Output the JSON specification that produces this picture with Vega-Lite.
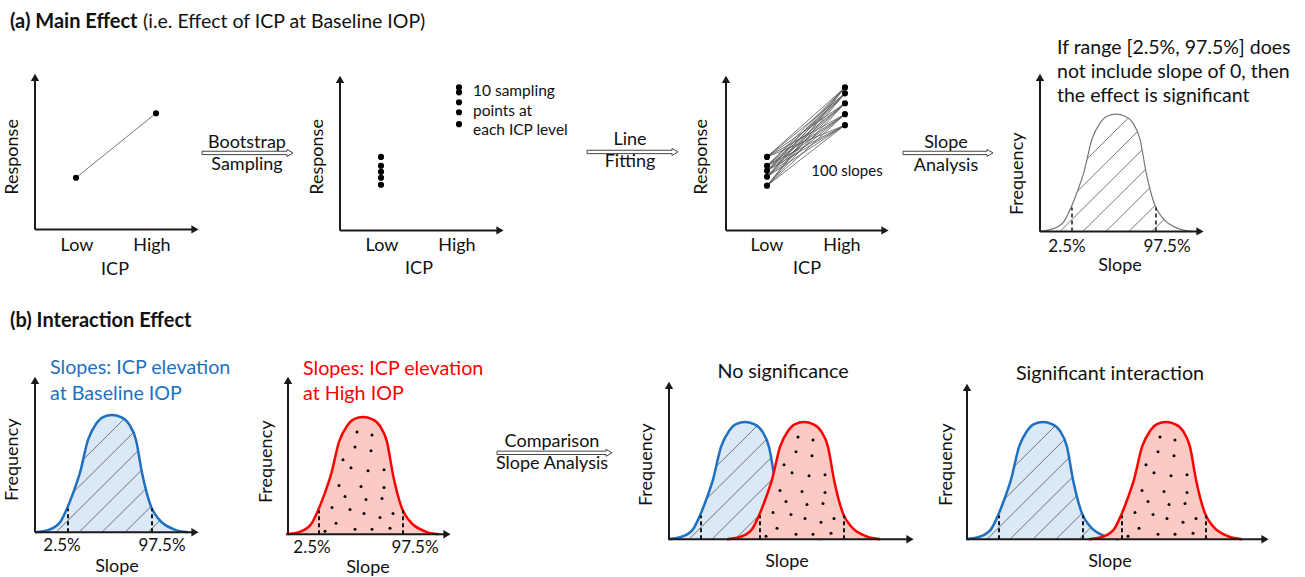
{
"$schema": "https://vega.github.io/schema/vega-lite/v6.json",
"width": 1305, "height": 577, "padding": 0,
"autosize": {"type": "fit", "contains": "padding"},
"background": "white",
"config": {"view": {"stroke": null}, "font": "Lato"},
"datasets": {
"axes": [
{"x":35,"y":231,"x2":35,"y2":78},{"x":35,"y":231,"x2":195,"y2":231},
{"x":340,"y":232,"x2":340,"y2":80},{"x":340,"y":232,"x2":500,"y2":232},
{"x":726,"y":232,"x2":726,"y2":80},{"x":726,"y":232,"x2":885,"y2":232},
{"x":1040,"y":233,"x2":1040,"y2":78},{"x":1040,"y":233,"x2":1200,"y2":233},
{"x":35,"y":536,"x2":35,"y2":383},{"x":35,"y":536,"x2":195,"y2":536},
{"x":288,"y":538,"x2":288,"y2":383},{"x":288,"y":538,"x2":447,"y2":538},
{"x":669,"y":543,"x2":669,"y2":388},{"x":669,"y":543,"x2":910,"y2":543},
{"x":967,"y":543,"x2":967,"y2":390},{"x":967,"y":543,"x2":1265,"y2":543}
],
"heads": [
{"x":35,"y":78,"d":"up"},{"x":195,"y":231,"d":"right"},
{"x":340,"y":80,"d":"up"},{"x":500,"y":232,"d":"right"},
{"x":726,"y":80,"d":"up"},{"x":885,"y":232,"d":"right"},
{"x":1040,"y":78,"d":"up"},{"x":1200,"y":233,"d":"right"},
{"x":35,"y":383,"d":"up"},{"x":195,"y":536,"d":"right"},
{"x":288,"y":383,"d":"up"},{"x":447,"y":538,"d":"right"},
{"x":669,"y":388,"d":"up"},{"x":910,"y":543,"d":"right"},
{"x":967,"y":390,"d":"up"},{"x":1265,"y":543,"d":"right"}
],
"arrows": [
{"id":1,"o":1,"x":202,"y":152.3},{"id":1,"o":2,"x":287,"y":152.3},{"id":1,"o":3,"x":287,"y":150.5},{"id":1,"o":4,"x":293,"y":154},{"id":1,"o":5,"x":287,"y":157.5},{"id":1,"o":6,"x":287,"y":155.7},{"id":1,"o":7,"x":202,"y":155.7},{"id":1,"o":8,"x":202,"y":152.3},
{"id":2,"o":1,"x":587,"y":151.3},{"id":2,"o":2,"x":672,"y":151.3},{"id":2,"o":3,"x":672,"y":149.5},{"id":2,"o":4,"x":678,"y":153},{"id":2,"o":5,"x":672,"y":156.5},{"id":2,"o":6,"x":672,"y":154.7},{"id":2,"o":7,"x":587,"y":154.7},{"id":2,"o":8,"x":587,"y":151.3},
{"id":3,"o":1,"x":903,"y":152.3},{"id":3,"o":2,"x":987,"y":152.3},{"id":3,"o":3,"x":987,"y":150.5},{"id":3,"o":4,"x":993,"y":154},{"id":3,"o":5,"x":987,"y":157.5},{"id":3,"o":6,"x":987,"y":155.7},{"id":3,"o":7,"x":903,"y":155.7},{"id":3,"o":8,"x":903,"y":152.3},
{"id":4,"o":1,"x":497,"y":454.3},{"id":4,"o":2,"x":606,"y":454.3},{"id":4,"o":3,"x":606,"y":452.5},{"id":4,"o":4,"x":612,"y":456},{"id":4,"o":5,"x":606,"y":459.5},{"id":4,"o":6,"x":606,"y":457.7},{"id":4,"o":7,"x":497,"y":457.7},{"id":4,"o":8,"x":497,"y":454.3}
],
"mainLine": [{"x":76,"y":179,"x2":156,"y2":114}],
"fits": [
{"x":767,"y":158,"x2":845,"y2":88},{"x":767,"y":158,"x2":845,"y2":94},{"x":767,"y":158,"x2":845,"y2":104},{"x":767,"y":158,"x2":845,"y2":115},{"x":767,"y":158,"x2":845,"y2":126},
{"x":767,"y":167,"x2":845,"y2":88},{"x":767,"y":167,"x2":845,"y2":94},{"x":767,"y":167,"x2":845,"y2":104},{"x":767,"y":167,"x2":845,"y2":115},{"x":767,"y":167,"x2":845,"y2":126},
{"x":767,"y":172,"x2":845,"y2":88},{"x":767,"y":172,"x2":845,"y2":94},{"x":767,"y":172,"x2":845,"y2":104},{"x":767,"y":172,"x2":845,"y2":115},{"x":767,"y":172,"x2":845,"y2":126},
{"x":767,"y":178,"x2":845,"y2":88},{"x":767,"y":178,"x2":845,"y2":94},{"x":767,"y":178,"x2":845,"y2":104},{"x":767,"y":178,"x2":845,"y2":115},{"x":767,"y":178,"x2":845,"y2":126},
{"x":767,"y":187,"x2":845,"y2":88},{"x":767,"y":187,"x2":845,"y2":94},{"x":767,"y":187,"x2":845,"y2":104},{"x":767,"y":187,"x2":845,"y2":115},{"x":767,"y":187,"x2":845,"y2":126}
],
"pts": [
{"x":76,"y":179},{"x":156,"y":114},
{"x":381,"y":158},{"x":381,"y":167},{"x":381,"y":173},{"x":381,"y":179},{"x":381,"y":186},
{"x":459,"y":88},{"x":459,"y":93},{"x":459,"y":103},{"x":459,"y":113},{"x":459,"y":125},
{"x":767,"y":158},{"x":767,"y":167},{"x":767,"y":172},{"x":767,"y":178},{"x":767,"y":187},
{"x":845,"y":88},{"x":845,"y":94},{"x":845,"y":104},{"x":845,"y":115},{"x":845,"y":126}
],
"grayCurve": [
{"c":"T","x":1039,"y":233,"b":233},{"c":"T","x":1054,"y":230,"b":233},{"c":"T","x":1064,"y":223,"b":233},{"c":"T","x":1071,"y":209,"b":233},{"c":"T","x":1078,"y":191,"b":233},{"c":"T","x":1084,"y":173,"b":233},{"c":"T","x":1092,"y":140,"b":233},{"c":"T","x":1100,"y":124,"b":233},{"c":"T","x":1107,"y":117,"b":233},{"c":"T","x":1116,"y":115,"b":233},{"c":"T","x":1125,"y":117,"b":233},{"c":"T","x":1133,"y":124,"b":233},{"c":"T","x":1140,"y":140,"b":233},{"c":"T","x":1146,"y":173,"b":233},{"c":"T","x":1155,"y":207,"b":233},{"c":"T","x":1163,"y":220,"b":233},{"c":"T","x":1178,"y":230,"b":233},{"c":"T","x":1192,"y":233,"b":233}
],
"blueCurves": [
{"c":"B1","x":35,"y":536,"b":536},{"c":"B1","x":50,"y":533,"b":536},{"c":"B1","x":60,"y":526,"b":536},{"c":"B1","x":67,"y":512,"b":536},{"c":"B1","x":74,"y":494,"b":536},{"c":"B1","x":80,"y":476,"b":536},{"c":"B1","x":88,"y":443,"b":536},{"c":"B1","x":96,"y":427,"b":536},{"c":"B1","x":103,"y":420,"b":536},{"c":"B1","x":112,"y":418,"b":536},{"c":"B1","x":121,"y":420,"b":536},{"c":"B1","x":129,"y":427,"b":536},{"c":"B1","x":136,"y":443,"b":536},{"c":"B1","x":142,"y":476,"b":536},{"c":"B1","x":151,"y":510,"b":536},{"c":"B1","x":159,"y":523,"b":536},{"c":"B1","x":174,"y":533,"b":536},{"c":"B1","x":188,"y":536,"b":536},
{"c":"B3","x":668,"y":543,"b":543},{"c":"B3","x":683,"y":540,"b":543},{"c":"B3","x":693,"y":533,"b":543},{"c":"B3","x":700,"y":519,"b":543},{"c":"B3","x":707,"y":501,"b":543},{"c":"B3","x":713,"y":483,"b":543},{"c":"B3","x":721,"y":450,"b":543},{"c":"B3","x":729,"y":434,"b":543},{"c":"B3","x":736,"y":427,"b":543},{"c":"B3","x":745,"y":425,"b":543},{"c":"B3","x":754,"y":427,"b":543},{"c":"B3","x":762,"y":434,"b":543},{"c":"B3","x":769,"y":450,"b":543},{"c":"B3","x":775,"y":483,"b":543},{"c":"B3","x":784,"y":517,"b":543},{"c":"B3","x":792,"y":530,"b":543},{"c":"B3","x":807,"y":540,"b":543},{"c":"B3","x":821,"y":543,"b":543},
{"c":"B4","x":966,"y":543,"b":543},{"c":"B4","x":981,"y":540,"b":543},{"c":"B4","x":991,"y":533,"b":543},{"c":"B4","x":998,"y":519,"b":543},{"c":"B4","x":1005,"y":501,"b":543},{"c":"B4","x":1011,"y":483,"b":543},{"c":"B4","x":1019,"y":450,"b":543},{"c":"B4","x":1027,"y":434,"b":543},{"c":"B4","x":1034,"y":427,"b":543},{"c":"B4","x":1043,"y":425,"b":543},{"c":"B4","x":1052,"y":427,"b":543},{"c":"B4","x":1060,"y":434,"b":543},{"c":"B4","x":1067,"y":450,"b":543},{"c":"B4","x":1073,"y":483,"b":543},{"c":"B4","x":1082,"y":517,"b":543},{"c":"B4","x":1090,"y":530,"b":543},{"c":"B4","x":1105,"y":540,"b":543},{"c":"B4","x":1119,"y":543,"b":543}
],
"redCurves": [
{"c":"R2","x":286,"y":538,"b":538},{"c":"R2","x":301,"y":535,"b":538},{"c":"R2","x":311,"y":528,"b":538},{"c":"R2","x":318,"y":514,"b":538},{"c":"R2","x":325,"y":496,"b":538},{"c":"R2","x":331,"y":478,"b":538},{"c":"R2","x":339,"y":445,"b":538},{"c":"R2","x":347,"y":429,"b":538},{"c":"R2","x":354,"y":422,"b":538},{"c":"R2","x":363,"y":420,"b":538},{"c":"R2","x":372,"y":422,"b":538},{"c":"R2","x":380,"y":429,"b":538},{"c":"R2","x":387,"y":445,"b":538},{"c":"R2","x":393,"y":478,"b":538},{"c":"R2","x":402,"y":512,"b":538},{"c":"R2","x":410,"y":525,"b":538},{"c":"R2","x":425,"y":535,"b":538},{"c":"R2","x":439,"y":538,"b":538},
{"c":"R3","x":727,"y":543,"b":543},{"c":"R3","x":742,"y":540,"b":543},{"c":"R3","x":752,"y":533,"b":543},{"c":"R3","x":759,"y":519,"b":543},{"c":"R3","x":766,"y":501,"b":543},{"c":"R3","x":772,"y":483,"b":543},{"c":"R3","x":780,"y":450,"b":543},{"c":"R3","x":788,"y":434,"b":543},{"c":"R3","x":795,"y":427,"b":543},{"c":"R3","x":804,"y":425,"b":543},{"c":"R3","x":813,"y":427,"b":543},{"c":"R3","x":821,"y":434,"b":543},{"c":"R3","x":828,"y":450,"b":543},{"c":"R3","x":834,"y":483,"b":543},{"c":"R3","x":843,"y":517,"b":543},{"c":"R3","x":851,"y":530,"b":543},{"c":"R3","x":866,"y":540,"b":543},{"c":"R3","x":880,"y":543,"b":543},
{"c":"R4","x":1089,"y":543,"b":543},{"c":"R4","x":1104,"y":540,"b":543},{"c":"R4","x":1114,"y":533,"b":543},{"c":"R4","x":1121,"y":519,"b":543},{"c":"R4","x":1128,"y":501,"b":543},{"c":"R4","x":1134,"y":483,"b":543},{"c":"R4","x":1142,"y":450,"b":543},{"c":"R4","x":1150,"y":434,"b":543},{"c":"R4","x":1157,"y":427,"b":543},{"c":"R4","x":1166,"y":425,"b":543},{"c":"R4","x":1175,"y":427,"b":543},{"c":"R4","x":1183,"y":434,"b":543},{"c":"R4","x":1190,"y":450,"b":543},{"c":"R4","x":1196,"y":483,"b":543},{"c":"R4","x":1205,"y":517,"b":543},{"c":"R4","x":1213,"y":530,"b":543},{"c":"R4","x":1228,"y":540,"b":543},{"c":"R4","x":1242,"y":543,"b":543}
],
"grayHatch": [
{"x":1087.2,"y":159.8,"x2":1127.7,"y2":119.3},{"x":1077.4,"y":192.6,"x2":1137,"y2":133},{"x":1060,"y":233,"x2":1142,"y2":151},{"x":1083,"y":233,"x2":1145.5,"y2":170.5},{"x":1106,"y":233,"x2":1150.2,"y2":188.8},{"x":1129,"y":233,"x2":1155,"y2":207},{"x":1152,"y":233,"x2":1164.2,"y2":220.8}
],
"blueHatch": [
{"x":83.2,"y":462.8,"x2":123.7,"y2":422.3},{"x":73.4,"y":495.6,"x2":133,"y2":436},{"x":56,"y":536,"x2":138,"y2":454},{"x":79,"y":536,"x2":141.5,"y2":473.5},{"x":102,"y":536,"x2":146.2,"y2":491.8},{"x":125,"y":536,"x2":151,"y2":510},{"x":148,"y":536,"x2":160.2,"y2":523.8},
{"x":716.2,"y":469.8,"x2":756.7,"y2":429.3},{"x":706.4,"y":502.6,"x2":766,"y2":443},{"x":689,"y":543,"x2":771,"y2":461},{"x":712,"y":543,"x2":774.5,"y2":480.5},{"x":735,"y":543,"x2":779.2,"y2":498.8},{"x":758,"y":543,"x2":784,"y2":517},{"x":781,"y":543,"x2":793.2,"y2":530.8},
{"x":1014.2,"y":469.8,"x2":1054.7,"y2":429.3},{"x":1004.4,"y":502.6,"x2":1064,"y2":443},{"x":987,"y":543,"x2":1069,"y2":461},{"x":1010,"y":543,"x2":1072.5,"y2":480.5},{"x":1033,"y":543,"x2":1077.2,"y2":498.8},{"x":1056,"y":543,"x2":1082,"y2":517},{"x":1079,"y":543,"x2":1091.2,"y2":530.8}
],
"grayDash": [{"x":1072,"y":233,"x2":1072,"y2":209},{"x":1156,"y":233,"x2":1156,"y2":209}],
"blueDash": [
{"x":68,"y":536,"x2":68,"y2":512},{"x":152,"y":536,"x2":152,"y2":512},
{"x":701,"y":543,"x2":701,"y2":519},{"x":785,"y":543,"x2":785,"y2":519},
{"x":999,"y":543,"x2":999,"y2":519},{"x":1083,"y":543,"x2":1083,"y2":519}
],
"redDash": [
{"x":319,"y":538,"x2":319,"y2":514},{"x":403,"y":538,"x2":403,"y2":514},
{"x":760,"y":543,"x2":760,"y2":519},{"x":844,"y":543,"x2":844,"y2":519},
{"x":1122,"y":543,"x2":1122,"y2":519},{"x":1206,"y":543,"x2":1206,"y2":519}
],
"redDots": [
{"x":357,"y":435},{"x":372,"y":438},{"x":355,"y":450},{"x":371,"y":454},{"x":343,"y":463},{"x":351,"y":471},{"x":368,"y":474},{"x":384,"y":473},{"x":339,"y":489},{"x":361,"y":490},{"x":384,"y":491},{"x":345,"y":500},{"x":366,"y":503},{"x":382,"y":502},{"x":332,"y":511},{"x":350,"y":513},{"x":364,"y":517},{"x":380,"y":521},{"x":393,"y":517},{"x":336,"y":527},{"x":325,"y":535},{"x":355,"y":533},{"x":372,"y":533},{"x":390,"y":532},
{"x":798,"y":440},{"x":813,"y":443},{"x":796,"y":455},{"x":812,"y":459},{"x":784,"y":468},{"x":792,"y":476},{"x":809,"y":479},{"x":825,"y":478},{"x":780,"y":494},{"x":802,"y":495},{"x":825,"y":496},{"x":786,"y":505},{"x":807,"y":508},{"x":823,"y":507},{"x":773,"y":516},{"x":791,"y":518},{"x":805,"y":522},{"x":821,"y":526},{"x":834,"y":522},{"x":777,"y":532},{"x":766,"y":540},{"x":796,"y":538},{"x":813,"y":538},{"x":831,"y":537},
{"x":1160,"y":440},{"x":1175,"y":443},{"x":1158,"y":455},{"x":1174,"y":459},{"x":1146,"y":468},{"x":1154,"y":476},{"x":1171,"y":479},{"x":1187,"y":478},{"x":1142,"y":494},{"x":1164,"y":495},{"x":1187,"y":496},{"x":1148,"y":505},{"x":1169,"y":508},{"x":1185,"y":507},{"x":1135,"y":516},{"x":1153,"y":518},{"x":1167,"y":522},{"x":1183,"y":526},{"x":1196,"y":522},{"x":1139,"y":532},{"x":1128,"y":540},{"x":1158,"y":538},{"x":1175,"y":538},{"x":1193,"y":537}
],
"titles": [{"x":10,"y":22,"t":"(a) Main Effect"},{"x":10,"y":323,"t":"(b) Interaction Effect"}],
"subtitle": [{"x":143,"y":22,"t":"(i.e. Effect of ICP at Baseline IOP)"}],
"labels": [
{"x":77,"y":248,"t":"Low"},{"x":152,"y":248,"t":"High"},{"x":115,"y":272,"t":"ICP"},
{"x":247,"y":144,"t":"Bootstrap"},{"x":247,"y":166,"t":"Sampling"},
{"x":382,"y":248,"t":"Low"},{"x":457,"y":248,"t":"High"},{"x":419,"y":271,"t":"ICP"},
{"x":630,"y":141,"t":"Line"},{"x":630,"y":163,"t":"Fitting"},
{"x":767,"y":248,"t":"Low"},{"x":842,"y":248,"t":"High"},{"x":807,"y":271,"t":"ICP"},
{"x":946,"y":144,"t":"Slope"},{"x":946,"y":167,"t":"Analysis"},
{"x":1120,"y":268,"t":"Slope"},
{"x":117,"y":571,"t":"Slope"},
{"x":368,"y":572,"t":"Slope"},
{"x":552,"y":445,"t":"Comparison"},{"x":552,"y":467,"t":"Slope Analysis"},
{"x":787,"y":566,"t":"Slope"},
{"x":1110,"y":566,"t":"Slope"}
],
"percents": [
{"x":1067,"y":249,"t":"2.5%"},{"x":1167,"y":249,"t":"97.5%"},
{"x":62,"y":550,"t":"2.5%"},{"x":162,"y":550,"t":"97.5%"},
{"x":312,"y":552,"t":"2.5%"},{"x":415,"y":552,"t":"97.5%"}
],
"headers": [{"x":783,"y":375,"t":"No significance"},{"x":1110,"y":377,"t":"Significant interaction"}],
"smallCenter": [{"x":847,"y":172,"t":"100 slopes"}],
"notes": [
{"x":1057,"y":48,"t":"If range [2.5%, 97.5%] does"},{"x":1057,"y":73,"t":"not include slope of 0, then"},{"x":1057,"y":97,"t":"the effect is significant"}
],
"smallLeft": [{"x":473,"y":92,"t":"10 sampling"},{"x":473,"y":112,"t":"points at"},{"x":473,"y":131,"t":"each ICP level"}],
"blueText": [{"x":50,"y":371,"t":"Slopes: ICP elevation"},{"x":50,"y":397,"t":"at Baseline IOP"}],
"redText": [{"x":303,"y":372,"t":"Slopes: ICP elevation"},{"x":303,"y":397,"t":"at High IOP"}],
"rotated": [
{"x":13,"y":158,"t":"Response"},{"x":318,"y":158,"t":"Response"},{"x":702,"y":158,"t":"Response"},
{"x":1018,"y":175,"t":"Frequency"},{"x":13,"y":463,"t":"Frequency"},{"x":267,"y":465,"t":"Frequency"},{"x":647,"y":468,"t":"Frequency"},{"x":947,"y":468,"t":"Frequency"}
]
},
"encoding": {
"x": {"field": "x", "type": "quantitative", "scale": {"domain": [0, 1305], "nice": false, "zero": false}, "axis": null},
"y": {"field": "y", "type": "quantitative", "scale": {"domain": [0, 577], "reverse": true, "nice": false, "zero": false}, "axis": null}
},
"layer": [
{"data": {"name": "grayHatch"}, "mark": {"type": "rule", "color": "#555", "strokeWidth": 0.8}, "encoding": {"x2": {"field": "x2"}, "y2": {"field": "y2"}}},
{"data": {"name": "grayCurve"}, "mark": {"type": "line", "color": "#777", "strokeWidth": 1.2, "interpolate": "monotone"}, "encoding": {"detail": {"field": "c"}}},
{"data": {"name": "grayDash"}, "mark": {"type": "rule", "color": "#111", "strokeWidth": 1.5, "strokeDash": [4, 3]}, "encoding": {"x2": {"field": "x2"}, "y2": {"field": "y2"}}},
{"data": {"name": "blueCurves"}, "mark": {"type": "area", "color": "#dbe8f5", "interpolate": "monotone"}, "encoding": {"y2": {"field": "b"}, "detail": {"field": "c"}}},
{"data": {"name": "blueHatch"}, "mark": {"type": "rule", "color": "#555", "strokeWidth": 0.8}, "encoding": {"x2": {"field": "x2"}, "y2": {"field": "y2"}}},
{"data": {"name": "blueCurves"}, "mark": {"type": "line", "color": "#1f70c1", "strokeWidth": 2.5, "interpolate": "monotone"}, "encoding": {"detail": {"field": "c"}}},
{"data": {"name": "blueDash"}, "mark": {"type": "rule", "color": "#111", "strokeWidth": 2, "strokeDash": [4, 3]}, "encoding": {"x2": {"field": "x2"}, "y2": {"field": "y2"}}},
{"data": {"name": "redCurves"}, "mark": {"type": "area", "color": "#fbcac4", "opacity": 1, "interpolate": "monotone"}, "encoding": {"y2": {"field": "b"}, "detail": {"field": "c"}}},
{"data": {"name": "redCurves"}, "mark": {"type": "line", "color": "#ff0000", "strokeWidth": 2.5, "interpolate": "monotone"}, "encoding": {"detail": {"field": "c"}}},
{"data": {"name": "redDots"}, "mark": {"type": "circle", "color": "#000", "size": 9, "opacity": 1}},
{"data": {"name": "redDash"}, "mark": {"type": "rule", "color": "#111", "strokeWidth": 2, "strokeDash": [4, 3]}, "encoding": {"x2": {"field": "x2"}, "y2": {"field": "y2"}}},
{"data": {"name": "axes"}, "mark": {"type": "rule", "color": "#1a1a1a", "strokeWidth": 2}, "encoding": {"x2": {"field": "x2"}, "y2": {"field": "y2"}}},
{"data": {"name": "heads"}, "mark": {"type": "point", "filled": true, "color": "#1a1a1a", "size": 70, "opacity": 1, "strokeWidth": 0}, "encoding": {"shape": {"field": "d", "type": "nominal", "scale": {"domain": ["up", "right"], "range": ["triangle-up", "triangle-right"]}, "legend": null}}},
{"data": {"name": "arrows"}, "mark": {"type": "line", "color": "#444", "strokeWidth": 1}, "encoding": {"detail": {"field": "id"}, "order": {"field": "o", "type": "quantitative"}}},
{"data": {"name": "mainLine"}, "mark": {"type": "rule", "color": "#777", "strokeWidth": 1}, "encoding": {"x2": {"field": "x2"}, "y2": {"field": "y2"}}},
{"data": {"name": "fits"}, "mark": {"type": "rule", "color": "#555", "strokeWidth": 0.8}, "encoding": {"x2": {"field": "x2"}, "y2": {"field": "y2"}}},
{"data": {"name": "pts"}, "mark": {"type": "circle", "color": "#000", "size": 38, "opacity": 1}},
{"data": {"name": "titles"}, "mark": {"type": "text", "font": "Lato", "fontSize": 20, "fontWeight": "bold", "align": "left", "baseline": "middle", "color": "#111"}, "encoding": {"text": {"field": "t"}}},
{"data": {"name": "subtitle"}, "mark": {"type": "text", "font": "Lato", "fontSize": 19.5, "align": "left", "baseline": "middle", "color": "#111"}, "encoding": {"text": {"field": "t"}}},
{"data": {"name": "labels"}, "mark": {"type": "text", "font": "Lato", "fontSize": 18, "align": "center", "baseline": "middle", "color": "#111"}, "encoding": {"text": {"field": "t"}}},
{"data": {"name": "percents"}, "mark": {"type": "text", "font": "Lato", "fontSize": 17, "align": "center", "baseline": "middle", "color": "#111"}, "encoding": {"text": {"field": "t"}}},
{"data": {"name": "headers"}, "mark": {"type": "text", "font": "Lato", "fontSize": 19.7, "align": "center", "baseline": "middle", "color": "#111"}, "encoding": {"text": {"field": "t"}}},
{"data": {"name": "smallCenter"}, "mark": {"type": "text", "font": "Lato", "fontSize": 15, "align": "center", "baseline": "middle", "color": "#111"}, "encoding": {"text": {"field": "t"}}},
{"data": {"name": "notes"}, "mark": {"type": "text", "font": "Lato", "fontSize": 19.5, "align": "left", "baseline": "middle", "color": "#111"}, "encoding": {"text": {"field": "t"}}},
{"data": {"name": "smallLeft"}, "mark": {"type": "text", "font": "Lato", "fontSize": 15.5, "align": "left", "baseline": "middle", "color": "#111"}, "encoding": {"text": {"field": "t"}}},
{"data": {"name": "blueText"}, "mark": {"type": "text", "font": "Lato", "fontSize": 19.7, "align": "left", "baseline": "middle", "color": "#1f70c1"}, "encoding": {"text": {"field": "t"}}},
{"data": {"name": "redText"}, "mark": {"type": "text", "font": "Lato", "fontSize": 19.7, "align": "left", "baseline": "middle", "color": "#ff0000"}, "encoding": {"text": {"field": "t"}}},
{"data": {"name": "rotated"}, "mark": {"type": "text", "font": "Lato", "fontSize": 18, "angle": 270, "align": "center", "baseline": "middle", "color": "#111"}, "encoding": {"text": {"field": "t"}}}
]
}
